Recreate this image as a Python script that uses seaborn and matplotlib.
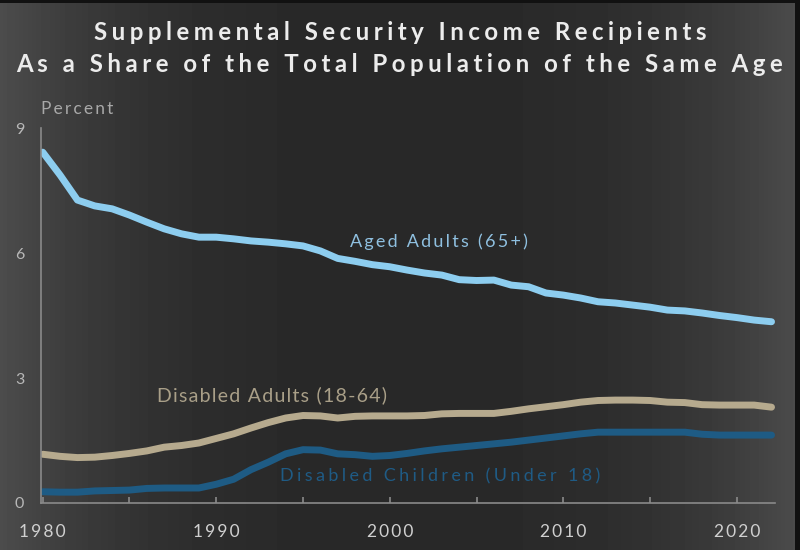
import numpy as np
import pandas as pd
import matplotlib
matplotlib.use("Agg")
import matplotlib.pyplot as plt
import seaborn as sns

# Data (percent of same-age population)
years = list(range(1980, 2023))

aged_adults = [8.42, 7.87, 7.27, 7.13, 7.06, 6.91, 6.74, 6.58, 6.46, 6.38,
               6.38, 6.34, 6.29, 6.26, 6.22, 6.17, 6.05, 5.87, 5.80, 5.72,
               5.67, 5.59, 5.52, 5.47, 5.36, 5.34, 5.35, 5.23, 5.19, 5.04,
               4.99, 4.92, 4.83, 4.80, 4.75, 4.70, 4.63, 4.61, 4.56, 4.50,
               4.45, 4.39, 4.35]

disabled_adults = [1.17, 1.12, 1.09, 1.10, 1.14, 1.19, 1.25, 1.34, 1.38, 1.44,
                   1.55, 1.66, 1.80, 1.93, 2.04, 2.10, 2.09, 2.04, 2.08, 2.09,
                   2.09, 2.09, 2.10, 2.14, 2.15, 2.15, 2.15, 2.20, 2.26, 2.31,
                   2.36, 2.42, 2.46, 2.47, 2.47, 2.46, 2.42, 2.41, 2.36, 2.35,
                   2.35, 2.35, 2.30]

disabled_children = [0.27, 0.26, 0.26, 0.29, 0.30, 0.31, 0.35, 0.36, 0.36, 0.36,
                     0.45, 0.57, 0.80, 0.98, 1.18, 1.28, 1.27, 1.18, 1.16, 1.12,
                     1.14, 1.19, 1.25, 1.30, 1.34, 1.38, 1.42, 1.46, 1.51, 1.56,
                     1.61, 1.66, 1.70, 1.70, 1.70, 1.70, 1.70, 1.70, 1.65, 1.63,
                     1.63, 1.63, 1.63]

series_names = ["Aged Adults (65+)", "Disabled Adults (18-64)", "Disabled Children (Under 18)"]
series_colors = ["#8dcdef", "#b6aa8e", "#1e5b84"]
label_colors = ["#8fc0e0", "#a99f88", "#1f5b85"]
# label anchor (year, percent) for the in-chart labels
label_pos = [(1997.7, 6.26), (1986.6, 2.59), (1993.7, 0.65)]

x_ticks = [1980, 1990, 2000, 2010, 2020]
x_minor = [1985, 1995, 2005, 2015]
y_ticks = [0, 3, 6, 9]

title_lines = ["Supplemental Security Income Recipients",
               "As a Share of the Total Population of the Same Age"]

THIN = "\u2009"
HAIR = "\u200a"


def spaced(s, gap=THIN):
    # the reference uses wide letter spacing; fake it with thin spaces
    return gap.join(s)


label_gaps = [THIN, HAIR, THIN + HAIR]
label_sizes = [13, 14, 13]

df = pd.DataFrame({
    "year": years * 3,
    "pct": aged_adults + disabled_adults + disabled_children,
    "series": [series_names[0]] * len(years) + [series_names[1]] * len(years)
              + [series_names[2]] * len(years),
})

sns.set_style("dark")
plt.rcParams["font.family"] = ["Lato", "DejaVu Sans"]

fig = plt.figure(figsize=(8, 5.5), dpi=100)
fig.patch.set_facecolor("#2a2a2a")

# vignette background
bg = fig.add_axes([0, 0, 1, 1], zorder=0)
xs = np.linspace(-1, 1, 800)
prof = 0.16 + 0.14 * np.abs(xs) ** 3
img = np.tile(prof, (550, 1))
img[:3, :] = 0.07
img[:, 795:] = 0.07
bg.imshow(img, cmap="gray", vmin=0, vmax=1, aspect="auto", interpolation="bilinear")
bg.set_axis_off()

ax = fig.add_axes([41 / 800, 47 / 550, 734 / 800, 375 / 550], zorder=1)
ax.set_facecolor("none")

sns.lineplot(data=df, x="year", y="pct", hue="series", palette=series_colors,
             hue_order=series_names, linewidth=5, legend=False, ax=ax,
             solid_capstyle="round")

ax.set_xlim(1979.9, 2022.2)
ax.set_ylim(0, 9)
ax.grid(False)

for side in ["top", "right"]:
    ax.spines[side].set_visible(False)
for side in ["left", "bottom"]:
    ax.spines[side].set_visible(True)
    ax.spines[side].set_color("#8a8a8a")
    ax.spines[side].set_linewidth(1.2)

ax.set_xticks(x_ticks)
ax.set_xticks(x_minor, minor=True)
ax.set_xticklabels([spaced(str(t)) for t in x_ticks])
ax.tick_params(axis="x", which="both", direction="in", length=4, width=1.2,
               color="#8a8a8a", labelcolor="#d0d0d0", labelsize=12.5, pad=15, bottom=True)
ax.set_yticks(y_ticks)
ax.set_yticklabels([str(t) for t in y_ticks])
ax.tick_params(axis="y", length=0, labelcolor="#b8b8b8", labelsize=11.5, pad=12)

ax.set_xlabel("")
ax.set_ylabel("")

ax.text(0.0, 1.03, spaced("Percent"), transform=ax.transAxes, color="#a8a8a8",
        fontsize=12.5, ha="left", va="bottom")

for name, col, gap, fs, (lx, ly) in zip(series_names, label_colors, label_gaps,
                                         label_sizes, label_pos):
    ax.text(lx, ly, spaced(name, gap), color=col, fontsize=fs, ha="left", va="center")

fig.text(0.5, 0.94, spaced(title_lines[0], THIN + HAIR), color="#ececec",
         fontsize=17.3, fontweight="bold", ha="center", va="center")
fig.text(0.5, 0.882, spaced(title_lines[1], THIN + HAIR), color="#ececec",
         fontsize=17.3, fontweight="bold", ha="center", va="center")

fig.savefig("out.png", dpi=100, facecolor=fig.get_facecolor())
